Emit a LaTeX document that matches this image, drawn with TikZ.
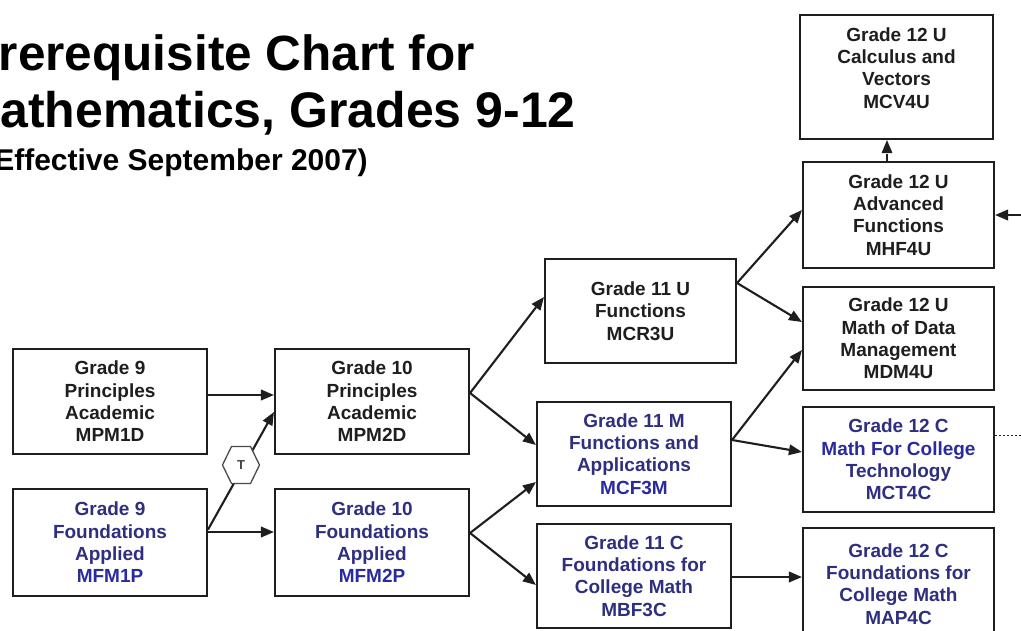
\documentclass[tikz,border=0pt]{standalone}
\usepackage{fontspec}
\setmainfont{Liberation Sans}
\usetikzlibrary{arrows.meta,shapes.geometric}
\definecolor{ink}{HTML}{1E1E1E}
\definecolor{navy}{HTML}{2F2F80}
\definecolor{blue2}{HTML}{2A2AA0}
\tikzset{
  box/.style={draw=ink, line width=2.1pt, fill=white, align=center, inner sep=0pt,
    text=ink, font=\bfseries\fontsize{19}{22.3}\selectfont},
  boxtext/.style={align=center, inner sep=0pt, text=ink,
    font=\bfseries\fontsize{19}{22.3}\selectfont},
  arr/.style={draw=ink, line width=2.1pt, -{Triangle[length=13pt,width=10.5pt]}},
  hexline/.style={draw=ink!80, line width=1.3pt, fill=white},
  hextext/.style={inner sep=0pt, text=ink!85, font=\bfseries\fontsize{13}{13}\selectfont},
  ttl/.style={anchor=base east, inner sep=0pt, text=black, font=\bfseries\fontsize{#1}{#1}\selectfont}
}
\begin{document}
\begin{tikzpicture}[x=1pt,y=-1pt]
\useasboundingbox (0,0) rectangle (1021,630);
\fill[white] (0,0) rectangle (1021,630);

% title
\node[ttl=49.5] (t1) at (475,70) {rerequisite Chart for};
\node[ttl=50] (t2) at (576,127) {athematics, Grades 9-12};
\node[ttl=30] (t3) at (368,170) {Effective September 2007)};

% grade 9 / 10
\node[box, minimum width=194pt, minimum height=105pt] (g9p) at (110,401.5)
  {Grade 9\\Principles\\Academic\\MPM1D};
\node[box, minimum width=194pt, minimum height=105pt] (g10p) at (372,401.5)
  {Grade 10\\Principles\\Academic\\MPM2D};
\node[box, minimum width=194pt, minimum height=107pt, text=navy] (g9f) at (110,542.5)
  {Grade 9\\Foundations\\Applied\\{\color{blue2}MFM1P}};
\node[box, minimum width=194pt, minimum height=107pt, text=navy] (g10f) at (372,542.5)
  {Grade 10\\Foundations\\Applied\\{\color{blue2}MFM2P}};

% grade 11
\node[box, minimum width=191pt, minimum height=104pt] (g11u) at (640.5,311)
  {Grade 11 U\\Functions\\MCR3U};
\node[box, minimum width=194pt, minimum height=104pt, text=navy] (g11m) at (634,454)
  {Grade 11 M\\Functions and\\Applications\\{\color{blue2}MCF3M}};
\node[box, minimum width=194pt, minimum height=104pt, text=navy] (g11c) at (634,576)
  {Grade 11 C\\Foundations for\\College Math\\MBF3C};

% grade 12
\node[box, minimum width=193pt, minimum height=124pt] (mcv) at (896.5,77) {};
\node[boxtext] (mcvt) at (896.5,68) {Grade 12 U\\Calculus and\\Vectors\\MCV4U};
\node[box, minimum width=191pt, minimum height=106pt] (mhf) at (898.5,215)
  {Grade 12 U\\Advanced\\Functions\\MHF4U};
\node[box, minimum width=191pt, minimum height=103pt] (mdm) at (898.5,338.5)
  {Grade 12 U\\Math of Data\\Management\\MDM4U};
\node[box, minimum width=191pt, minimum height=105pt, text=navy] (mct) at (898.5,459.5)
  {Grade 12 C\\{\color{blue2}Math For College}\\Technology\\MCT4C};
\node[box, minimum width=191pt, minimum height=112pt, text=navy] (map) at (898.5,584)
  {Grade 12 C\\Foundations for\\College Math\\MAP4C};

% connectors
\draw[arr] ([yshift=6.5pt]g9p.east) -- ([yshift=6.5pt]g9p.east -| g10p.west);
\draw[arr] ([yshift=10.5pt]g9f.east) -- ([yshift=10.5pt]g9f.east -| g10f.west);
\draw[arr] ([yshift=13pt]g9f.east) -- ([yshift=-10.5pt]g10p.west);

% transition hexagon
\coordinate (hxc) at (241,465);
\filldraw[hexline] ([xshift=-18.5pt]hxc) -- ++(9,-18.5) -- ++(19,0) -- ++(9,18.5)
  -- ++(-9,18.5) -- ++(-19,0) -- cycle;
\node[hextext] (hx) at (hxc) {T};

\draw[arr] ([yshift=8.5pt]g10p.east) -- ([yshift=14pt]g11u.west);
\draw[arr] ([yshift=8.5pt]g10p.east) -- ([yshift=9pt]g11m.west);
\draw[arr] ([yshift=9.5pt]g10f.east) -- ([yshift=-28pt]g11m.west);
\draw[arr] ([yshift=9.5pt]g10f.east) -- ([yshift=-9pt]g11c.west);

\draw[arr] ([yshift=28pt]g11u.east) -- ([yshift=5pt]mhf.west);
\draw[arr] ([yshift=28pt]g11u.east) -- ([yshift=16.5pt]mdm.west);
\draw[arr] ([yshift=14pt]g11m.east) -- ([yshift=-11.5pt]mdm.west);
\draw[arr] ([yshift=14pt]g11m.east) -- ([yshift=7.5pt]mct.west);
\draw[arr] ([yshift=-1pt]g11c.east) -- ([yshift=-1pt]g11c.east -| map.west);

\draw[arr, dash pattern=on 7pt off 5pt, line width=1.6pt] ([xshift=-11.5pt]mhf.north) -- ([xshift=-11.5pt]mhf.north |- mcv.south);

\coordinate (rin) at (1030,215);
\draw[arr] (rin) -- (mhf.east);
\coordinate (rout) at (1030,435);
\draw[draw=ink, line width=1pt, dash pattern=on 2pt off 2pt] ([yshift=24.5pt]mct.east) -- (rout);
\end{tikzpicture}
\end{document}
